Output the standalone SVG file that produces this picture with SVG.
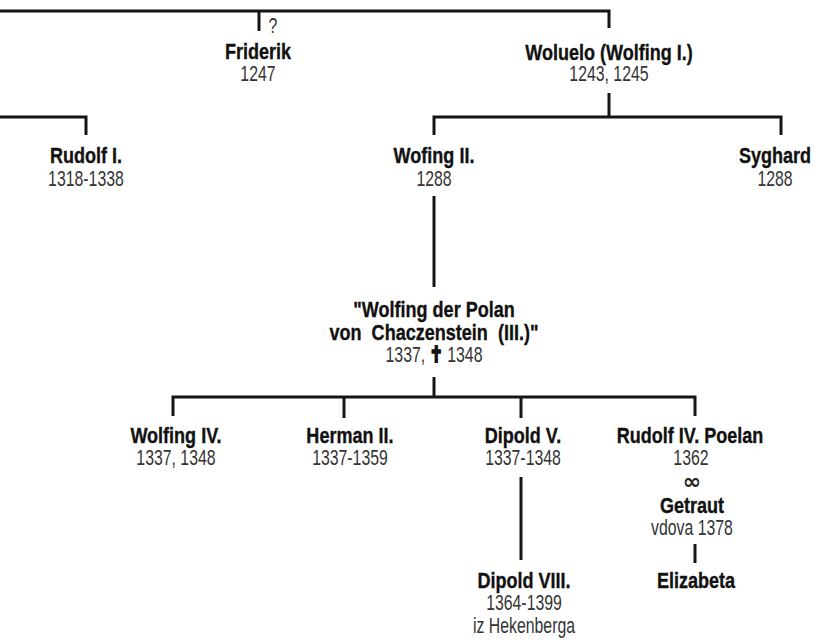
<svg xmlns="http://www.w3.org/2000/svg" width="817" height="643" viewBox="0 0 817 643">
<style>
.n{font-family:"Liberation Sans",Arial,sans-serif;font-weight:bold;font-size:22px;fill:#111;stroke:#111;stroke-width:0.35;text-anchor:middle;transform:scale(0.82,1)}
.d{font-family:"Liberation Sans",Arial,sans-serif;font-size:22px;fill:#333;text-anchor:middle;transform:scale(0.72,1)}
.c path{fill:none;stroke:#151515;stroke-width:3}
</style>
<rect width="817" height="643" fill="#fff"/>
<g class="c" id="connectors">
<path d="M0,11 H609 V28"/>
<path d="M259,11 V31"/>
<path d="M0,117 H86 V135"/>
<path d="M609,93 V117"/>
<path d="M434,135 V117 H781 V135"/>
<path d="M434,196 V287"/>
<path d="M434,377 V397"/>
<path d="M173,416 V397 H695 V416"/>
<path d="M344,397 V418"/>
<path d="M521,397 V418"/>
<path d="M521,477 V560"/>
<path d="M695,544 V563"/>
</g>
<text class="d" x="379.2" y="33">?</text>
<g id="friderik"><text class="n" x="314.6" y="59">Friderik</text><text class="d" x="358.3" y="81">1247</text></g>
<g id="woluelo"><text class="n" x="742.7" y="60">Woluelo (Wolfing I.)</text><text class="d" x="845.8" y="81">1243, 1245</text></g>
<g id="rudolf1"><text class="n" x="104.9" y="163">Rudolf I.</text><text class="d" x="119.4" y="186">1318-1338</text></g>
<g id="wofing2"><text class="n" x="529.3" y="163">Wofing II.</text><text class="d" x="602.8" y="186">1288</text></g>
<g id="syghard"><text class="n" x="945.1" y="163">Syghard</text><text class="d" x="1076.4" y="186">1288</text></g>
<g id="wolfing3"><text class="n" x="529.3" y="317">"Wolfing der Polan</text><text class="n" x="529.3" y="340" style="white-space:pre">von  Chaczenstein  (III.)"</text><text class="d" x="602.8" y="362">1337, <tspan font-family="DejaVu Sans" font-weight="bold" font-size="22" fill="#111" stroke="#111" stroke-width="2">✝</tspan> 1348</text></g>
<g id="wolfing4"><text class="n" x="214.6" y="443">Wolfing IV.</text><text class="d" x="244.4" y="465">1337, 1348</text></g>
<g id="herman2"><text class="n" x="426.8" y="443">Herman II.</text><text class="d" x="486.1" y="465">1337-1359</text></g>
<g id="dipold5"><text class="n" x="637.8" y="443">Dipold V.</text><text class="d" x="726.4" y="465">1337-1348</text></g>
<g id="rudolf4"><text class="n" x="841.5" y="443">Rudolf IV. Poelan</text><text class="d" x="959.7" y="465">1362</text></g>
<g id="getraut"><text x="692" y="489" font-family="DejaVu Sans" font-weight="bold" font-size="22" fill="#222" text-anchor="middle">∞</text><text class="n" x="843.9" y="513">Getraut</text><text class="d" x="961.1" y="535">vdova 1378</text></g>
<g id="elizabeta"><text class="n" x="848.8" y="588">Elizabeta</text></g>
<g id="dipold8"><text class="n" x="639.0" y="588">Dipold VIII.</text><text class="d" x="727.8" y="610">1364-1399</text><text class="d" x="727.8" y="633">iz Hekenberga</text></g>
</svg>
